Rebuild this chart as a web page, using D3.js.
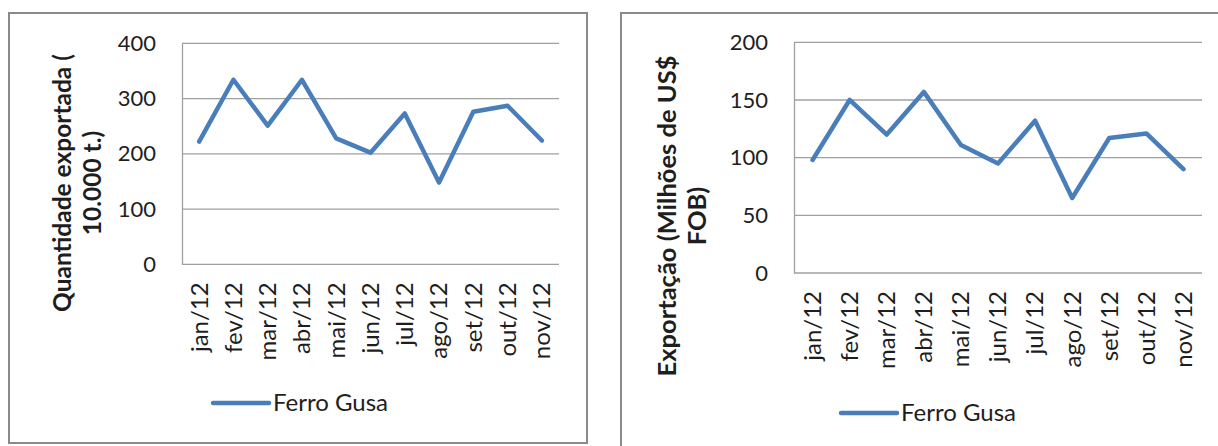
<!DOCTYPE html>
<html>
<head>
<meta charset="utf-8">
<script src="https://cdn.jsdelivr.net/npm/d3@7"></script>
<style>
  body { margin: 0; background: #fff; }
  svg text { font-family: Lato, "Open Sans", sans-serif; fill: #1e1e1e; }
</style>
</head>
<body>
<svg id="chart" width="1218" height="446"></svg>
<script>
// Monthly pig iron ("Ferro Gusa") exports, 2012
const months = ["jan/12", "fev/12", "mar/12", "abr/12", "mai/12", "jun/12",
                "jul/12", "ago/12", "set/12", "out/12", "nov/12"];
const quantidade = [222, 334, 251, 334, 228, 202, 273, 148, 276, 287, 224];   // 10.000 t
const exportacao = [98, 150, 120, 157, 111, 95, 132, 65, 117, 121, 90];       // milhões US$ FOB
const quantidadeTicks = [0, 100, 200, 300, 400];
const exportacaoTicks = [0, 50, 100, 150, 200];
const seriesName = "Ferro Gusa";

const lineColor = "#4a7ebb";
const gridColor = "#a0a0a0";
const frameColor = "#8a8a8a";

const panels = [
  {
    values: quantidade, ticks: quantidadeTicks,
    title: ["Quantidade exportada (", "10.000 t.)"],
    titleSize: 24.5,
    frame: { x: 9, y: 13, w: 578, h: 430 },
    plot: { left: 182, right: 559, top: 43.3, bottom: 264.3 },
    titleX: 63, titleY: 183,
    legend: { x: 213, y: 403 }
  },
  {
    values: exportacao, ticks: exportacaoTicks,
    title: ["Exportação (Milhões de US$", "FOB)"],
    titleSize: 25.5,
    frame: { x: 621, y: 13, w: 640, h: 460 },
    plot: { left: 794, right: 1202, top: 42.3, bottom: 273 },
    titleX: 668, titleY: 216,
    legend: { x: 841, y: 413 }
  }
];

const svg = d3.select("#chart");

panels.forEach(p => {
  const g = svg.append("g");

  // chart area border
  g.append("rect")
    .attr("x", p.frame.x).attr("y", p.frame.y)
    .attr("width", p.frame.w).attr("height", p.frame.h)
    .attr("fill", "#fff").attr("stroke", frameColor).attr("stroke-width", 2);

  const x = d3.scaleBand().domain(months).range([p.plot.left, p.plot.right]);
  const y = d3.scaleLinear()
    .domain([p.ticks[0], p.ticks[p.ticks.length - 1]])
    .range([p.plot.bottom, p.plot.top]);

  // horizontal gridlines
  g.append("g")
    .selectAll("line")
    .data(p.ticks)
    .join("line")
    .attr("x1", p.plot.left).attr("x2", p.plot.right)
    .attr("y1", d => y(d)).attr("y2", d => y(d))
    .attr("stroke", gridColor).attr("stroke-width", 1.3);

  // value axis
  const yAxis = g.append("g")
    .attr("transform", `translate(${p.plot.left},0)`)
    .call(d3.axisLeft(y).tickValues(p.ticks).tickSize(0).tickPadding(26).tickFormat(d3.format("d")));
  yAxis.select(".domain").attr("stroke", gridColor).attr("stroke-width", 1.3);
  yAxis.selectAll("text").attr("font-size", 22).attr("fill", "#1e1e1e");

  // category axis
  const xAxis = g.append("g")
    .attr("transform", `translate(0,${p.plot.bottom})`)
    .call(d3.axisBottom(x).tickSize(0));
  xAxis.select(".domain").remove();
  xAxis.selectAll("text")
    .attr("font-size", 24).attr("fill", "#1e1e1e")
    .attr("text-anchor", "end")
    .attr("transform", "rotate(-90)")
    .attr("x", -18).attr("y", 0).attr("dy", "0.35em");

  // series line
  const line = d3.line()
    .x((d, i) => x(months[i]) + x.bandwidth() / 2)
    .y(d => y(d));
  g.append("path")
    .datum(p.values)
    .attr("d", line)
    .attr("fill", "none")
    .attr("stroke", lineColor)
    .attr("stroke-width", 4.5)
    .attr("stroke-linejoin", "round")
    .attr("stroke-linecap", "round");

  // axis title, two lines
  const t = g.append("text")
    .attr("transform", `translate(${p.titleX + 8},${p.titleY}) rotate(-90)`)
    .attr("text-anchor", "middle")
    .attr("font-size", p.titleSize).attr("font-weight", "bold");
  p.title.forEach((s, i) => {
    t.append("tspan").attr("x", 0).attr("dy", i === 0 ? 0 : 30).text(s);
  });

  // legend
  const lg = g.append("g").attr("transform", `translate(${p.legend.x},${p.legend.y})`);
  lg.append("line")
    .attr("x1", 0).attr("x2", 56).attr("y1", 0).attr("y2", 0)
    .attr("stroke", lineColor).attr("stroke-width", 4.5).attr("stroke-linecap", "round");
  lg.append("text")
    .attr("x", 60).attr("y", 0).attr("dy", "0.35em")
    .attr("font-size", 24)
    .text(seriesName);
});
</script>
</body>
</html>
